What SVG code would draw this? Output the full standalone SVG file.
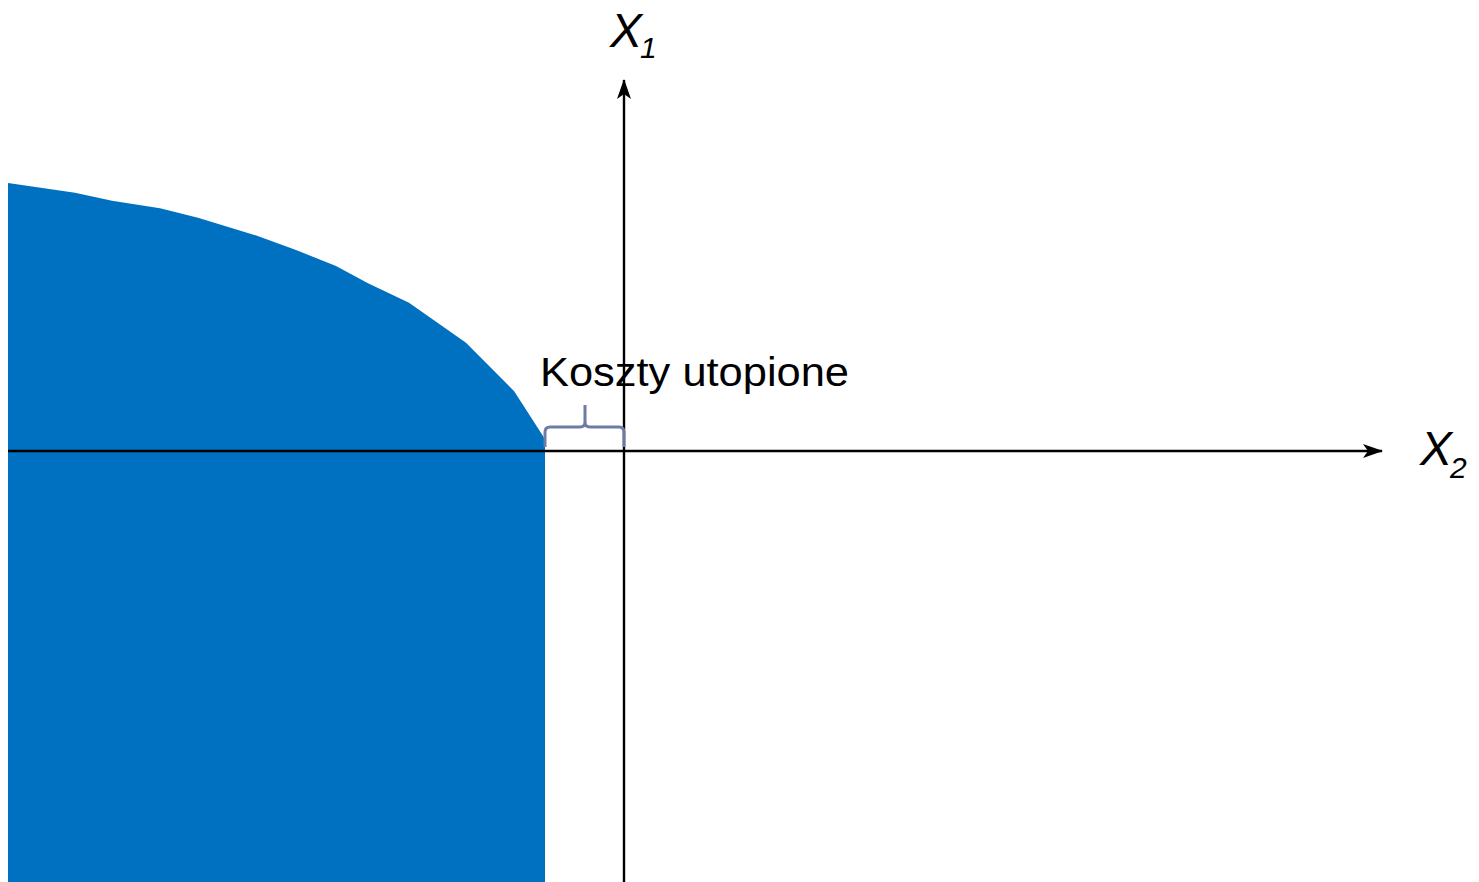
<svg xmlns="http://www.w3.org/2000/svg" width="1479" height="882" viewBox="0 0 1479 882">
<style>
.axis{stroke:#000;stroke-width:2.4;fill:none}
.lbl{font-family:"Liberation Sans",Arial,sans-serif;fill:#000}
.ax{font-style:italic;font-size:48px}
.sub{font-style:italic;font-size:30px}
</style>
<defs>
<marker id="arr" viewBox="0 0 20 14" refX="19" refY="7" markerWidth="20" markerHeight="14" markerUnits="userSpaceOnUse" orient="auto">
<path d="M0,0 L20,7 L0,14 L5,7 Z" fill="#000"/>
</marker>
</defs>
<rect width="1479" height="882" fill="#fff"/>
<g id="region">
<polygon fill="#0070C0" points="8,183 75,192.7 112,200.7 160,208.3 198,217.7 257,235.7 296,250 336,266 368,283.3 409,302.7 466,342.7 514,391 543,436 545,440 545,882 8,882"/>
</g>
<g id="connectors">
<line class="axis" x1="8" y1="451" x2="1382" y2="451" marker-end="url(#arr)"/>
<line class="axis" x1="624" y1="882" x2="624" y2="80" marker-end="url(#arr)"/>
</g>
<g id="brace">
<path d="M545,447 L545,432 Q545,427 550,427 L580,427 Q585,427 585,422 L585,405 M585,422 Q585,427 590,427 L619,427 Q624,427 624,432 L624,447" fill="none" stroke="#6E7BA3" stroke-width="3"/>
</g>
<g id="label-koszty">
<text class="lbl" x="540" y="386" font-size="40" textLength="309" lengthAdjust="spacingAndGlyphs">Koszty utopione</text>
</g>
<g id="label-x1">
<text class="lbl ax" x="610" y="47">X</text>
<text class="lbl sub" x="640" y="58">1</text>
</g>
<g id="label-x2">
<text class="lbl ax" x="1420" y="465">X</text>
<text class="lbl sub" x="1450" y="478">2</text>
</g>
</svg>
